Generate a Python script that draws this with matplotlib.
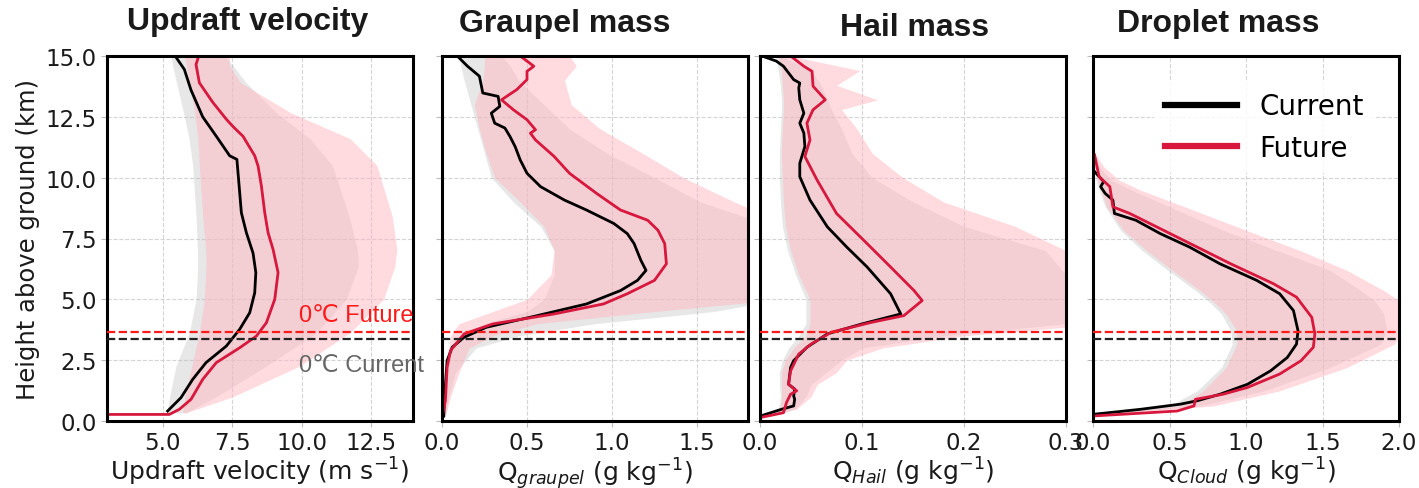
import matplotlib.pyplot as plt

# ---- updraft velocity (m/s) ----
upd_cur_h = [0.41, 0.96, 1.71, 2.4, 3.08, 3.77, 4.45, 5.27, 6.1, 6.9, 7.74, 8.56, 9.38, 10.2, 10.75, 10.9, 11.7, 12.5, 13.6, 14.45, 15.0]
upd_cur = [5.18, 5.66, 6.08, 6.56, 7.29, 7.77, 8.13, 8.31, 8.35, 8.25, 8.01, 7.83, 7.77, 7.71, 7.67, 7.41, 6.93, 6.44, 6.02, 5.78, 5.45]
upd_fut_h = [0.27, 0.27, 0.48, 0.89, 1.71, 2.4, 3.01, 3.49, 4.04, 5.0, 6.1, 7.05, 7.74, 8.56, 9.66, 10.48, 10.9, 11.7, 12.1, 12.4, 13.1, 13.9, 14.65, 15.0]
upd_fut = [0.0, 5.24, 5.6, 6.02, 6.44, 6.93, 7.77, 8.37, 8.73, 9.03, 9.15, 8.97, 8.79, 8.67, 8.55, 8.43, 8.31, 7.89, 7.53, 7.29, 6.80, 6.32, 6.20, 6.3]
upd_band_h = [0.34, 1.0, 2.26, 3.63, 5.0, 6.37, 7.05, 8.42, 10.5, 11.6, 12.67, 13.9, 14.6, 15.0]
upd_cur_lo = [5.15, 5.25, 5.48, 5.96, 6.2, 6.26, 6.25, 6.2, 6.08, 5.95, 5.75, 5.5, 5.36, 5.3]
upd_cur_hi = [5.84, 6.93, 8.73, 10.54, 11.6, 12.04, 12.0, 11.7, 11.1, 10.3, 9.09, 8.0, 7.53, 7.2]
upd_fut_lo = [5.72, 5.8, 6.05, 6.32, 6.5, 6.56, 6.55, 6.44, 6.32, 6.27, 6.15, 5.96, 5.85, 5.78]
upd_fut_hi = [5.84, 7.53, 9.93, 11.74, 12.94, 13.35, 13.42, 13.25, 12.7, 11.74, 9.6, 7.8, 7.4, 7.41]

# ---- graupel mass (g/kg) ----
gra_cur_h = [0.2, 1.5, 2.48, 3.03, 3.44, 3.85, 4.33, 4.81, 5.36, 5.78, 6.19, 6.6, 7.29, 7.7, 8.12, 8.67, 9.08, 9.63, 10.18, 10.73, 11.28, 11.69, 12.04, 12.24, 12.65, 12.93, 13.34, 13.48, 14.17, 14.58, 14.86, 15.0]
gra_cur = [0.01, 0.02, 0.03, 0.06, 0.13, 0.26, 0.56, 0.85, 1.05, 1.15, 1.2, 1.17, 1.13, 1.09, 1.01, 0.85, 0.72, 0.58, 0.5, 0.46, 0.43, 0.40, 0.37, 0.31, 0.29, 0.34, 0.33, 0.24, 0.22, 0.15, 0.11, 0.09]
gra_fut_h = [0.14, 0.83, 2.2, 2.89, 3.58, 3.99, 4.4, 4.81, 5.23, 5.78, 6.46, 7.29, 7.84, 8.25, 8.67, 9.35, 10.18, 10.87, 11.55, 11.83, 11.97, 12.38, 12.79, 13.2, 13.62, 14.03, 14.37, 14.58, 14.79, 15.0]
gra_fut = [0.0, 0.02, 0.03, 0.05, 0.13, 0.30, 0.66, 0.95, 1.09, 1.25, 1.32, 1.31, 1.27, 1.21, 1.05, 0.91, 0.75, 0.66, 0.55, 0.52, 0.55, 0.5, 0.42, 0.35, 0.44, 0.5, 0.5, 0.54, 0.5, 0.46]
gra_band_h = [0.2, 1.0, 2.0, 3.0, 3.5, 4.0, 4.5, 5.0, 6.0, 7.0, 8.0, 9.0, 10.0, 11.0, 12.0, 13.0, 14.0, 14.6, 15.0]
gra_cur_lo = [0.005, 0.02, 0.03, 0.05, 0.1, 0.25, 0.5, 0.6, 0.66, 0.66, 0.58, 0.42, 0.29, 0.25, 0.21, 0.17, 0.13, 0.11, 0.1]
gra_cur_hi = [0.02, 0.04, 0.08, 0.2, 0.45, 0.9, 1.6, 2.0, 2.1, 2.1, 1.95, 1.52, 1.25, 0.97, 0.75, 0.6, 0.45, 0.4, 0.35]
gra_fut_lo = [0.005, 0.02, 0.03, 0.04, 0.05, 0.1, 0.3, 0.5, 0.64, 0.66, 0.6, 0.46, 0.31, 0.26, 0.22, 0.19, 0.24, 0.25, 0.25]
gra_fut_hi = [0.02, 0.05, 0.1, 0.16, 0.3, 0.56, 1.25, 2.0, 2.3, 2.3, 2.05, 1.72, 1.42, 1.18, 0.93, 0.76, 0.72, 0.79, 0.75]

# ---- hail mass (g/kg) ----
hail_cur_h = [0.2, 0.48, 0.62, 0.89, 1.03, 1.31, 1.51, 2.2, 2.48, 3.03, 3.58, 3.99, 4.4, 5.23, 6.33, 7.15, 7.98, 9.08, 10.04, 10.59, 11.28, 11.83, 12.24, 12.65, 13.2, 13.69, 13.89, 14.03, 14.58, 14.79, 15.0]
hail_cur = [0.0, 0.021, 0.033, 0.034, 0.033, 0.034, 0.028, 0.03, 0.033, 0.046, 0.066, 0.1, 0.138, 0.128, 0.105, 0.085, 0.066, 0.049, 0.039, 0.039, 0.044, 0.043, 0.039, 0.043, 0.039, 0.038, 0.039, 0.033, 0.023, 0.016, 0.002]
hail_fut_h = [0.14, 0.34, 0.76, 1.1, 1.24, 1.51, 2.06, 2.75, 3.16, 3.65, 4.06, 4.33, 4.95, 5.36, 6.33, 7.29, 8.53, 9.9, 10.87, 11.55, 12.24, 12.79, 13.2, 13.76, 14.37, 14.58, 15.0]
hail_fut = [0.0, 0.023, 0.026, 0.03, 0.036, 0.028, 0.03, 0.038, 0.05, 0.07, 0.11, 0.141, 0.159, 0.151, 0.128, 0.105, 0.075, 0.056, 0.044, 0.049, 0.046, 0.052, 0.064, 0.052, 0.051, 0.043, 0.03]
hail_band_h = [0.2, 0.5, 1.0, 1.5, 2.0, 2.5, 3.0, 3.5, 4.0, 5.0, 6.0, 7.0, 8.0, 9.0, 10.0, 11.0, 12.0, 12.8, 13.2, 13.8, 14.4, 15.0]
hail_cur_lo = [0.0, 0.018, 0.02, 0.019, 0.019, 0.022, 0.028, 0.038, 0.045, 0.045, 0.035, 0.027, 0.022, 0.02, 0.019, 0.019, 0.02, 0.021, 0.021, 0.02, 0.018, 0.015]
hail_cur_hi = [0.01, 0.035, 0.045, 0.05, 0.065, 0.08, 0.1, 0.18, 0.3, 0.32, 0.3, 0.28, 0.2, 0.15, 0.11, 0.09, 0.08, 0.07, 0.066, 0.06, 0.05, 0.02]
hail_fut_lo = [0.0, 0.02, 0.021, 0.021, 0.021, 0.025, 0.033, 0.045, 0.049, 0.049, 0.038, 0.03, 0.025, 0.023, 0.022, 0.021, 0.022, 0.023, 0.023, 0.022, 0.021, 0.018]
hail_fut_hi = [0.01, 0.036, 0.05, 0.056, 0.075, 0.085, 0.12, 0.2, 0.34, 0.35, 0.33, 0.3, 0.25, 0.18, 0.14, 0.11, 0.095, 0.08, 0.115, 0.075, 0.098, 0.03]

# ---- cloud droplet mass (g/kg) ----
cld_cur_h = [0.28, 0.48, 0.69, 0.83, 1.1, 1.51, 2.06, 2.61, 3.16, 3.71, 4.54, 5.23, 5.78, 6.46, 7.15, 7.7, 8.25, 8.53, 9.08, 9.35, 9.63, 9.84, 10.25]
cld_cur = [0.01, 0.31, 0.57, 0.68, 0.83, 1.01, 1.16, 1.27, 1.33, 1.34, 1.31, 1.22, 1.07, 0.83, 0.63, 0.44, 0.28, 0.14, 0.13, 0.08, 0.05, 0.07, 0.01]
cld_fut_h = [0.21, 0.41, 0.62, 0.89, 1.1, 1.38, 1.93, 2.48, 3.03, 3.58, 4.26, 5.09, 5.64, 6.46, 7.15, 7.84, 8.53, 8.8, 9.63, 10.04, 10.94]
cld_fut = [0.01, 0.55, 0.66, 0.67, 0.85, 1.01, 1.22, 1.36, 1.44, 1.45, 1.43, 1.33, 1.18, 0.9, 0.68, 0.46, 0.24, 0.13, 0.11, 0.04, 0.01]
cld_band_h = [0.25, 0.62, 1.24, 2.2, 3.16, 3.71, 4.4, 4.95, 5.36, 6.19, 7.01, 7.84, 8.8, 9.49, 9.9, 10.45, 11.0]
cld_cur_lo = [0.0, 0.5, 0.68, 0.84, 0.91, 0.9, 0.84, 0.75, 0.67, 0.49, 0.32, 0.18, 0.08, 0.04, 0.02, 0.005, 0.0]
cld_cur_hi = [0.0, 0.7, 1.12, 1.55, 1.88, 1.92, 1.9, 1.84, 1.75, 1.55, 1.2, 0.85, 0.5, 0.25, 0.12, 0.04, 0.0]
cld_fut_lo = [0.0, 0.57, 0.72, 0.87, 0.94, 0.94, 0.87, 0.78, 0.7, 0.52, 0.35, 0.2, 0.09, 0.05, 0.03, 0.01, 0.0]
cld_fut_hi = [0.0, 0.79, 1.22, 1.66, 1.97, 2.02, 2.03, 2.0, 1.9, 1.66, 1.35, 1.0, 0.6, 0.31, 0.17, 0.07, 0.01]

freeze_cur = 3.35
freeze_fut = 3.65

titles = ['Updraft velocity', 'Graupel mass', 'Hail mass', 'Droplet mass']
xlabels = [r'Updraft velocity (m s$^{-1}$)', r'Q$_{graupel}$ (g kg$^{-1}$)',
           r'Q$_{Hail}$ (g kg$^{-1}$)', r'Q$_{Cloud}$ (g kg$^{-1}$)']
xlims = [(3, 14), (0, 1.8), (0, 0.3), (0, 2.0)]
xticks = [[5.0, 7.5, 10.0, 12.5], [0.0, 0.5, 1.0, 1.5], [0.0, 0.1, 0.2, 0.3], [0.0, 0.5, 1.0, 1.5, 2.0]]

panels = [
    (upd_cur_h, upd_cur, upd_fut_h, upd_fut, upd_band_h, upd_cur_lo, upd_cur_hi, upd_fut_lo, upd_fut_hi),
    (gra_cur_h, gra_cur, gra_fut_h, gra_fut, gra_band_h, gra_cur_lo, gra_cur_hi, gra_fut_lo, gra_fut_hi),
    (hail_cur_h, hail_cur, hail_fut_h, hail_fut, hail_band_h, hail_cur_lo, hail_cur_hi, hail_fut_lo, hail_fut_hi),
    (cld_cur_h, cld_cur, cld_fut_h, cld_fut, cld_band_h, cld_cur_lo, cld_cur_hi, cld_fut_lo, cld_fut_hi),
]

RED = '#d8173d'
fig = plt.figure(figsize=(14.19, 4.89), dpi=100)
lefts = [107, 442, 760, 1093]
title_pos = [(248, 22), (565, 24), (915, 28), (1218, 24)]

axes = []
for i, (ch, cx, fh, fx, bh, clo, chi, flo, fhi) in enumerate(panels):
    ax = fig.add_axes([lefts[i] / 1419, 67 / 489, 306 / 1419, 365 / 489])
    axes.append(ax)
    ax.fill_betweenx(bh, clo, chi, color='#bbbbbb', alpha=0.35, lw=0)
    ax.fill_betweenx(bh, flo, fhi, color='#ffb6c1', alpha=0.5, lw=0)
    ax.plot(cx, ch, color='black', lw=2, label='Current')
    ax.plot(fx, fh, color=RED, lw=2, label='Future')
    ax.axhline(freeze_fut, color='#ff1a1a', ls='--', lw=1.6, zorder=5)
    ax.axhline(freeze_cur, color='#222222', ls='--', lw=1.6, zorder=5)
    ax.set_xlim(*xlims[i])
    ax.set_ylim(0, 15)
    ax.set_xticks(xticks[i])
    ax.set_xticklabels(['%.1f' % t for t in xticks[i]])
    ax.set_yticks([0, 2.5, 5, 7.5, 10, 12.5, 15])
    ax.grid(True, ls='--', color='#d4d4d4', lw=0.8)
    ax.set_axisbelow(True)
    ax.tick_params(labelsize=16.5, length=4, color='#bbbbbb', labelcolor='#1a1a1a')
    ax.set_xlabel(xlabels[i], fontsize=18, color='#1a1a1a')
    ax.xaxis.set_label_coords(0.5, -0.093)
    for s in ax.spines.values():
        s.set_linewidth(2.2)
    if i > 0:
        ax.tick_params(labelleft=False)
    tx, ty = title_pos[i]
    fig.text(tx / 1419, 1 - ty / 489, titles[i], ha='center', va='center',
             fontsize=23, fontweight='bold', family='Liberation Sans', color='#1a1a1a')

ax0 = axes[0]
ax0.set_ylabel('Height above ground (km)', fontsize=17.5, color='#1a1a1a')
ax0.text(9.9, 4.35, '0\u2103 Future', color='#ff1a1a', fontsize=17, va='center',
         family=['Liberation Sans', 'DejaVu Sans'], zorder=10, clip_on=False)
ax0.text(9.9, 2.3, '0\u2103 Current', color='#666666', fontsize=17, va='center',
         family=['Liberation Sans', 'DejaVu Sans'], zorder=10, clip_on=False)

leg = axes[3].legend(loc='center', bbox_to_anchor=(0.56, 0.805), fontsize=20,
                     handlelength=2.6, handletextpad=0.8, framealpha=0.85,
                     edgecolor='none', fancybox=False)
for line in leg.get_lines():
    line.set_linewidth(4.5)

fig.savefig('out.png', dpi=100)
